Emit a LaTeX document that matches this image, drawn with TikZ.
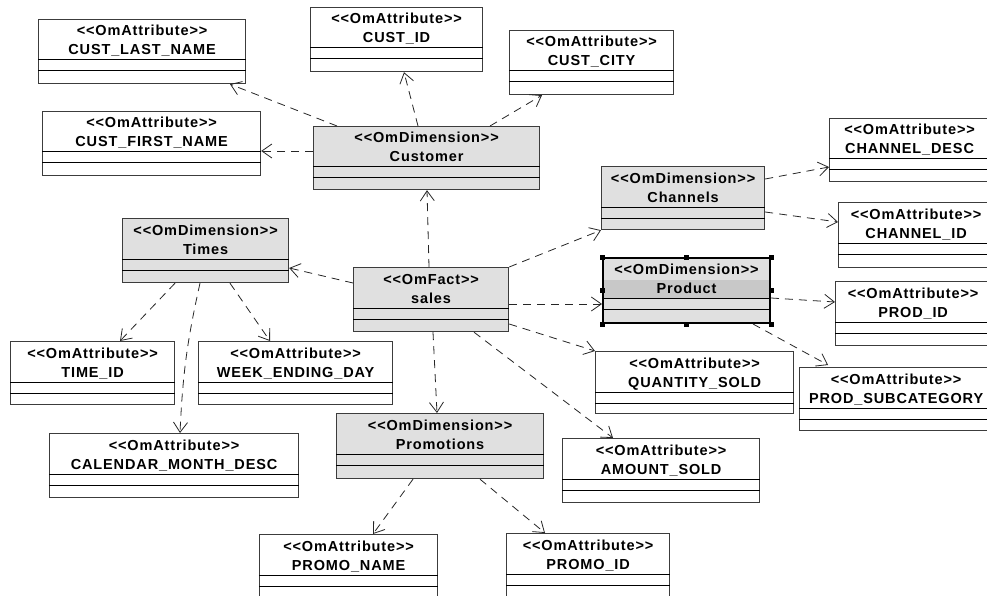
\documentclass[tikz,border=0pt]{standalone}
\usepackage{fontspec}
\usetikzlibrary{arrows.meta}
\newfontfamily\umlfont{Liberation Sans}[LetterSpace=6.0]
\definecolor{dimfill}{RGB}{224,224,224}
\definecolor{selband}{RGB}{200,200,200}
\definecolor{edge}{RGB}{60,60,60}

\tikzset{
  attrbox/.style={rectangle, draw=edge, line width=1.2pt, fill=white, inner sep=0pt},
  dimbox/.style={attrbox, fill=dimfill},
  lbl/.style={anchor=base, inner sep=0pt, font=\umlfont\fontsize{14.5}{16}\selectfont\bfseries},
  divider/.style={draw=black, line width=1pt},
  dep/.style={draw=black!85, line width=0.8pt, dash pattern=on 8pt off 6pt,
    -{Straight Barb[length=10pt,width=14pt]}},
  handle/.style={rectangle, fill=black, inner sep=0pt, minimum size=5pt}
}

% class box: name, x, y, width, height, style, stereotype, title
\newcommand\umlclass[8]{%
  \node[#6, minimum width=#4, minimum height=#5, anchor=north west] (#1) at (#2,#3) {};
  \node[lbl] (#1-st) at ([yshift=-17]#1.north) {#7};
  \node[lbl] (#1-nm) at ([yshift=-36]#1.north) {#8};
  \draw[divider] ([yshift=-41]#1.north west) -- ([yshift=-41]#1.north east);
  \draw[divider] ([yshift=-52]#1.north west) -- ([yshift=-52]#1.north east);
}

\begin{document}
\begin{tikzpicture}[x=1pt, y=-1pt]
\useasboundingbox[fill=white] (0,0) rectangle (987,596);

% customer dimension and its attributes
\umlclass{custlast}{38}{19}{207}{64}{attrbox}{<<OmAttribute>>}{CUST\_LAST\_NAME}
\umlclass{custfirst}{42}{111}{218}{64}{attrbox}{<<OmAttribute>>}{CUST\_FIRST\_NAME}
\umlclass{custid}{310}{7}{172}{64}{attrbox}{<<OmAttribute>>}{CUST\_ID}
\umlclass{custcity}{509}{30}{164}{64}{attrbox}{<<OmAttribute>>}{CUST\_CITY}
\umlclass{customer}{313}{126}{226}{63}{dimbox}{<<OmDimension>>}{Customer}

% channels
\umlclass{channels}{601}{166}{163}{63}{dimbox}{<<OmDimension>>}{Channels}
\umlclass{chdesc}{829}{118}{160}{63}{attrbox}{<<OmAttribute>>}{CHANNEL\_DESC}
\umlclass{chid}{838}{202}{155}{65}{attrbox}{<<OmAttribute>>}{CHANNEL\_ID}

% product (selected)
\node[dimbox, draw=black, line width=2pt, minimum width=167, minimum height=65, anchor=north west] (product) at (602,257) {};
\fill[selband] ([xshift=2,yshift=-23]product.north west) rectangle ([xshift=-2,yshift=-41]product.north east);
\node[lbl] (product-st) at ([yshift=-17]product.north) {<<OmDimension>>};
\node[lbl] (product-nm) at ([yshift=-36]product.north) {Product};
\draw[divider] ([yshift=-41]product.north west) -- ([yshift=-41]product.north east);
\draw[divider] ([yshift=-52]product.north west) -- ([yshift=-52]product.north east);
\foreach \a in {north west,north,north east,west,east,south west,south,south east}
  \node[handle] at (product.\a) {};

\umlclass{prodid}{835}{281}{155}{64}{attrbox}{<<OmAttribute>>}{PROD\_ID}
\umlclass{prodsub}{799}{367}{193}{63}{attrbox}{<<OmAttribute>>}{PROD\_SUBCATEGORY}

% measures
\umlclass{qty}{595}{351}{198}{62}{attrbox}{<<OmAttribute>>}{QUANTITY\_SOLD}
\umlclass{amount}{562}{438}{197}{64}{attrbox}{<<OmAttribute>>}{AMOUNT\_SOLD}

% promotions
\umlclass{promotions}{336}{413}{207}{65}{dimbox}{<<OmDimension>>}{Promotions}
\umlclass{promoname}{259}{534}{178}{64}{attrbox}{<<OmAttribute>>}{PROMO\_NAME}
\umlclass{promoid}{506}{533}{163}{64}{attrbox}{<<OmAttribute>>}{PROMO\_ID}

% fact
\umlclass{sales}{353}{267}{155}{64}{dimbox}{<<OmFact>>}{sales}

% times
\umlclass{times}{122}{218}{166}{64}{dimbox}{<<OmDimension>>}{Times}
\umlclass{timeid}{10}{341}{164}{63}{attrbox}{<<OmAttribute>>}{TIME\_ID}
\umlclass{week}{198}{341}{194}{63}{attrbox}{<<OmAttribute>>}{WEEK\_ENDING\_DAY}
\umlclass{calendar}{49}{433}{249}{64}{attrbox}{<<OmAttribute>>}{CALENDAR\_MONTH\_DESC}

% dependencies
\draw[dep] ([xshift=24]customer.north west) -- ([xshift=192]custlast.south west);
\draw[dep] ([yshift=-25]customer.north west) -- ([yshift=-40]custfirst.north east);
\draw[dep] ([xshift=105]customer.north west) -- ([xshift=94]custid.south west);
\draw[dep] ([xshift=177]customer.north west) -- ([xshift=33]custcity.south west);

\draw[dep] ([xshift=76]sales.north west) -- ([xshift=114]customer.south west);
\draw[dep] ([yshift=-16]sales.north west) -- ([yshift=-50]times.north east);
\draw[dep] (sales.north east) -- (channels.south west);
\draw[dep] ([yshift=-37]sales.north east) -- ([yshift=-47]product.north west);
\draw[dep] ([yshift=-57]sales.north east) -- (qty.north west);
\draw[dep] ([xshift=121]sales.south west) -- ([xshift=51]amount.north west);
\draw[dep] ([xshift=80]sales.south west) -- ([xshift=101]promotions.north west);

\draw[dep] ([xshift=53]times.south west) -- ([xshift=110]timeid.north west);
\draw[dep] ([xshift=78]times.south west) to[bend right=5] ([xshift=131]calendar.north west);
\draw[dep] ([xshift=108]times.south west) -- ([xshift=72]week.north west);

\draw[dep] ([yshift=-13]channels.north east) -- ([yshift=-49]chdesc.north west);
\draw[dep] ([yshift=-46]channels.north east) -- ([yshift=-20]chid.north west);

\draw[dep] ([yshift=-41]product.north east) -- ([yshift=-21]prodid.north west);
\draw[dep] ([xshift=151]product.south west) -- ([xshift=29,yshift=2]prodsub.north west);

\draw[dep] ([xshift=77]promotions.south west) -- ([xshift=114]promoname.north west);
\draw[dep] ([xshift=144]promotions.south west) -- ([xshift=39]promoid.north west);
\end{tikzpicture}
\end{document}
